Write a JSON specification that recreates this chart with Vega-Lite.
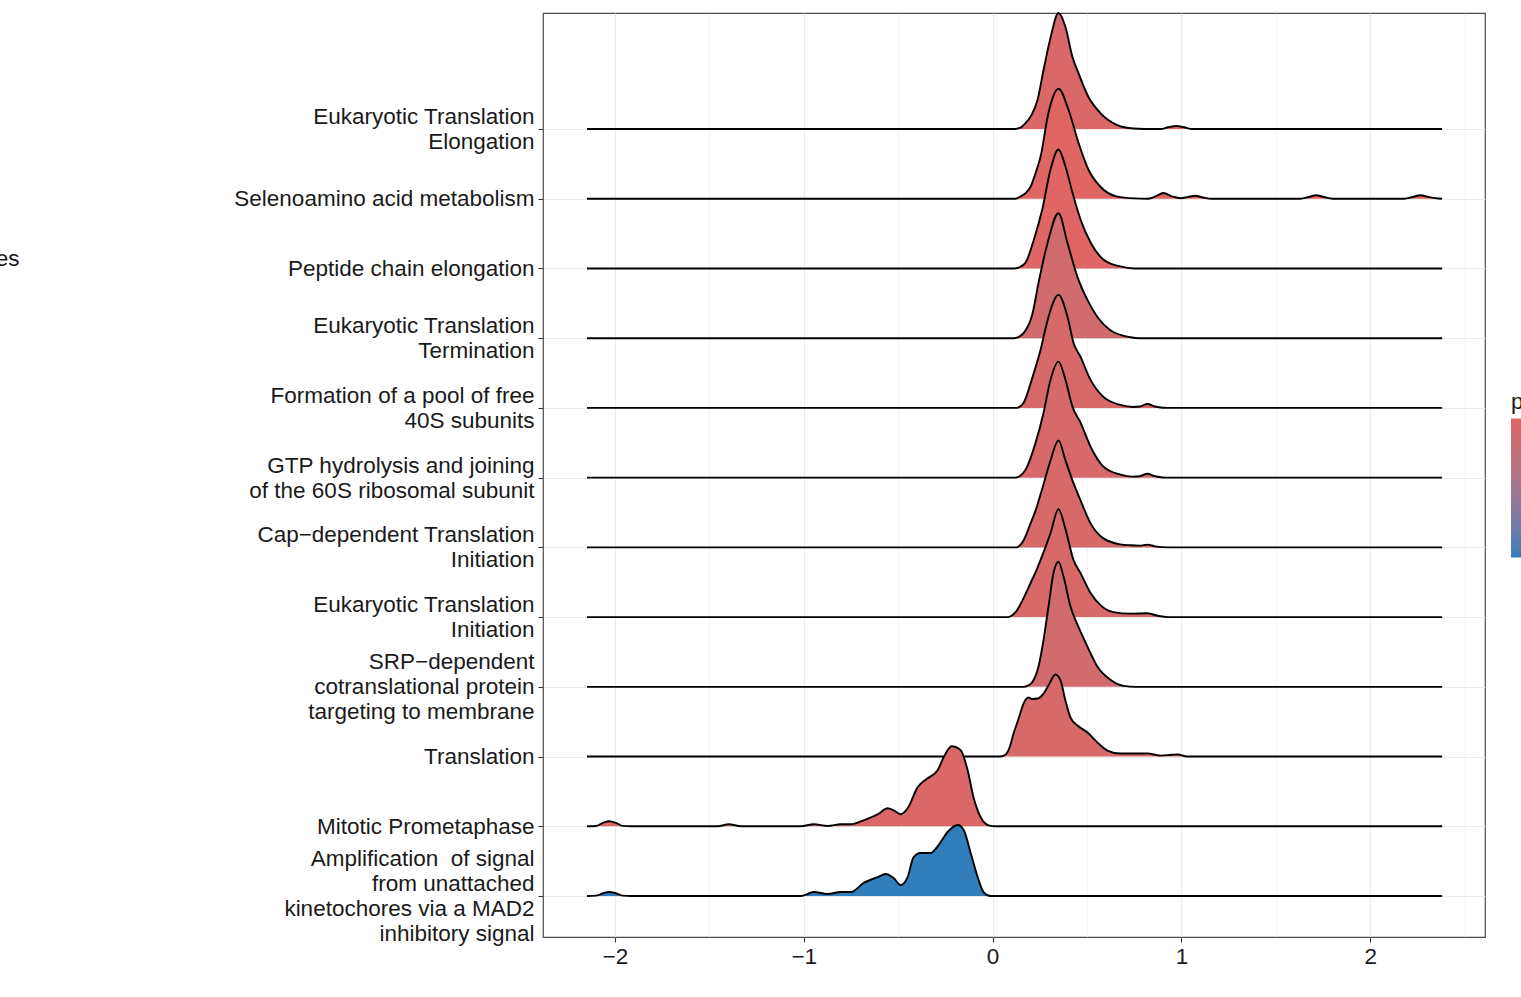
{
"$schema": "https://vega.github.io/schema/vega-lite/v6.json",
"width": 942, "height": 924,
"autosize": {"type": "none"},
"padding": {"left": 543, "top": 13, "right": 36, "bottom": 60},
"background": "white",
"config": {"font": "Liberation Sans", "view": {"stroke": "#4d4d4d", "strokeWidth": 1.2}},
"datasets": {
"terms": [{"r":1,"p":0.01},{"r":2,"p":0.0013},{"r":3,"p":0.0014},{"r":4,"p":0.0019},{"r":5,"p":0.0014},{"r":6,"p":0.0014},{"r":7,"p":0.0015},{"r":8,"p":0.0014},{"r":9,"p":0.0019},{"r":10,"p":0.0009},{"r":11,"p":0.0008},{"r":12,"p":0.0013}],
"ridges": [
{"r":12,"x":-2.148,"d":0},{"r":12,"x":0.111,"d":0},{"r":12,"x":0.14,"d":0.012},{"r":12,"x":0.175,"d":0.086},{"r":12,"x":0.206,"d":0.2},{"r":12,"x":0.238,"d":0.416},{"r":12,"x":0.27,"d":0.846},{"r":12,"x":0.307,"d":1.31},{"r":12,"x":0.349,"d":1.664},{"r":12,"x":0.386,"d":1.463},{"r":12,"x":0.423,"d":1.033},{"r":12,"x":0.455,"d":0.803},{"r":12,"x":0.508,"d":0.459},{"r":12,"x":0.571,"d":0.229},{"r":12,"x":0.661,"d":0.057},{"r":12,"x":0.746,"d":0.007},{"r":12,"x":0.8,"d":0},{"r":12,"x":0.889,"d":0},{"r":12,"x":0.93,"d":0.025},{"r":12,"x":0.974,"d":0.043},{"r":12,"x":1.015,"d":0.025},{"r":12,"x":1.058,"d":0},{"r":12,"x":2.381,"d":0},
{"r":11,"x":-2.148,"d":0},{"r":11,"x":0.122,"d":0},{"r":11,"x":0.146,"d":0.03},{"r":11,"x":0.175,"d":0.08},{"r":11,"x":0.201,"d":0.172},{"r":11,"x":0.228,"d":0.37},{"r":11,"x":0.254,"d":0.602},{"r":11,"x":0.296,"d":1.233},{"r":11,"x":0.349,"d":1.578},{"r":11,"x":0.402,"d":1.276},{"r":11,"x":0.455,"d":0.803},{"r":11,"x":0.508,"d":0.416},{"r":11,"x":0.571,"d":0.172},{"r":11,"x":0.661,"d":0.03},{"r":11,"x":0.75,"d":0.005},{"r":11,"x":0.82,"d":0},{"r":11,"x":0.86,"d":0.03},{"r":11,"x":0.905,"d":0.082},{"r":11,"x":0.95,"d":0.035},{"r":11,"x":0.995,"d":0.008},{"r":11,"x":1.035,"d":0.025},{"r":11,"x":1.074,"d":0.043},{"r":11,"x":1.115,"d":0.018},{"r":11,"x":1.16,"d":0},{"r":11,"x":1.63,"d":0},{"r":11,"x":1.675,"d":0.025},{"r":11,"x":1.714,"d":0.05},{"r":11,"x":1.755,"d":0.025},{"r":11,"x":1.8,"d":0},{"r":11,"x":2.18,"d":0},{"r":11,"x":2.225,"d":0.025},{"r":11,"x":2.265,"d":0.05},{"r":11,"x":2.31,"d":0.025},{"r":11,"x":2.36,"d":0.003},{"r":11,"x":2.381,"d":0},
{"r":10,"x":-2.148,"d":0},{"r":10,"x":0.116,"d":0},{"r":10,"x":0.14,"d":0.015},{"r":10,"x":0.175,"d":0.086},{"r":10,"x":0.219,"d":0.416},{"r":10,"x":0.263,"d":0.846},{"r":10,"x":0.307,"d":1.42},{"r":10,"x":0.349,"d":1.707},{"r":10,"x":0.386,"d":1.463},{"r":10,"x":0.423,"d":1.09},{"r":10,"x":0.466,"d":0.703},{"r":10,"x":0.519,"d":0.373},{"r":10,"x":0.587,"d":0.129},{"r":10,"x":0.677,"d":0.029},{"r":10,"x":0.75,"d":0},{"r":10,"x":2.381,"d":0},
{"r":9,"x":-2.148,"d":0},{"r":9,"x":0.111,"d":0},{"r":9,"x":0.14,"d":0.02},{"r":9,"x":0.164,"d":0.072},{"r":9,"x":0.212,"d":0.359},{"r":9,"x":0.243,"d":0.789},{"r":9,"x":0.291,"d":1.362},{"r":9,"x":0.349,"d":1.793},{"r":9,"x":0.397,"d":1.362},{"r":9,"x":0.45,"d":0.875},{"r":9,"x":0.503,"d":0.545},{"r":9,"x":0.556,"d":0.301},{"r":9,"x":0.624,"d":0.115},{"r":9,"x":0.73,"d":0.014},{"r":9,"x":0.78,"d":0},{"r":9,"x":2.381,"d":0},
{"r":8,"x":-2.148,"d":0},{"r":8,"x":0.13,"d":0},{"r":8,"x":0.145,"d":0.02},{"r":8,"x":0.164,"d":0.072},{"r":8,"x":0.212,"d":0.445},{"r":8,"x":0.254,"d":0.832},{"r":8,"x":0.296,"d":1.305},{"r":8,"x":0.349,"d":1.621},{"r":8,"x":0.397,"d":1.305},{"r":8,"x":0.429,"d":0.932},{"r":8,"x":0.466,"d":0.731},{"r":8,"x":0.519,"d":0.402},{"r":8,"x":0.587,"d":0.158},{"r":8,"x":0.677,"d":0.043},{"r":8,"x":0.746,"d":0.014},{"r":8,"x":0.78,"d":0.02},{"r":8,"x":0.82,"d":0.057},{"r":8,"x":0.86,"d":0.02},{"r":8,"x":0.9,"d":0.003},{"r":8,"x":0.95,"d":0},{"r":8,"x":2.381,"d":0},
{"r":7,"x":-2.148,"d":0},{"r":7,"x":0.12,"d":0},{"r":7,"x":0.145,"d":0.025},{"r":7,"x":0.175,"d":0.115},{"r":7,"x":0.228,"d":0.502},{"r":7,"x":0.27,"d":0.932},{"r":7,"x":0.307,"d":1.405},{"r":7,"x":0.349,"d":1.664},{"r":7,"x":0.386,"d":1.405},{"r":7,"x":0.423,"d":1.018},{"r":7,"x":0.466,"d":0.789},{"r":7,"x":0.519,"d":0.445},{"r":7,"x":0.587,"d":0.158},{"r":7,"x":0.677,"d":0.043},{"r":7,"x":0.74,"d":0.014},{"r":7,"x":0.78,"d":0.02},{"r":7,"x":0.82,"d":0.057},{"r":7,"x":0.86,"d":0.02},{"r":7,"x":0.9,"d":0.003},{"r":7,"x":0.95,"d":0},{"r":7,"x":2.381,"d":0},
{"r":6,"x":-2.148,"d":0},{"r":6,"x":0.13,"d":0},{"r":6,"x":0.145,"d":0.03},{"r":6,"x":0.164,"d":0.1},{"r":6,"x":0.201,"d":0.344},{"r":6,"x":0.228,"d":0.531},{"r":6,"x":0.265,"d":0.86},{"r":6,"x":0.307,"d":1.248},{"r":6,"x":0.349,"d":1.535},{"r":6,"x":0.386,"d":1.248},{"r":6,"x":0.423,"d":0.961},{"r":6,"x":0.466,"d":0.674},{"r":6,"x":0.519,"d":0.344},{"r":6,"x":0.587,"d":0.129},{"r":6,"x":0.677,"d":0.043},{"r":6,"x":0.73,"d":0.03},{"r":6,"x":0.78,"d":0.025},{"r":6,"x":0.82,"d":0.04},{"r":6,"x":0.86,"d":0.015},{"r":6,"x":0.9,"d":0.003},{"r":6,"x":0.95,"d":0},{"r":6,"x":2.381,"d":0},
{"r":5,"x":-2.148,"d":0},{"r":5,"x":0.08,"d":0},{"r":5,"x":0.1,"d":0.02},{"r":5,"x":0.122,"d":0.07},{"r":5,"x":0.159,"d":0.244},{"r":5,"x":0.201,"d":0.488},{"r":5,"x":0.228,"d":0.645},{"r":5,"x":0.254,"d":0.817},{"r":5,"x":0.307,"d":1.205},{"r":5,"x":0.349,"d":1.549},{"r":5,"x":0.386,"d":1.262},{"r":5,"x":0.429,"d":0.817},{"r":5,"x":0.466,"d":0.631},{"r":5,"x":0.519,"d":0.344},{"r":5,"x":0.571,"d":0.172},{"r":5,"x":0.64,"d":0.072},{"r":5,"x":0.73,"d":0.05},{"r":5,"x":0.82,"d":0.055},{"r":5,"x":0.88,"d":0.015},{"r":5,"x":0.93,"d":0},{"r":5,"x":2.381,"d":0},
{"r":4,"x":-2.148,"d":0},{"r":4,"x":0.164,"d":0},{"r":4,"x":0.19,"d":0.02},{"r":4,"x":0.212,"d":0.072},{"r":4,"x":0.243,"d":0.287},{"r":4,"x":0.27,"d":0.674},{"r":4,"x":0.296,"d":1.147},{"r":4,"x":0.323,"d":1.635},{"r":4,"x":0.349,"d":1.793},{"r":4,"x":0.376,"d":1.578},{"r":4,"x":0.413,"d":1.147},{"r":4,"x":0.455,"d":0.86},{"r":4,"x":0.503,"d":0.574},{"r":4,"x":0.556,"d":0.287},{"r":4,"x":0.624,"d":0.1},{"r":4,"x":0.693,"d":0.014},{"r":4,"x":0.76,"d":0},{"r":4,"x":2.381,"d":0},
{"r":3,"x":-2.148,"d":0},{"r":3,"x":0.042,"d":0},{"r":3,"x":0.069,"d":0.029},{"r":3,"x":0.09,"d":0.13},{"r":3,"x":0.111,"d":0.33},{"r":3,"x":0.138,"d":0.545},{"r":3,"x":0.164,"d":0.76},{"r":3,"x":0.19,"d":0.846},{"r":3,"x":0.212,"d":0.825},{"r":3,"x":0.238,"d":0.832},{"r":3,"x":0.27,"d":0.903},{"r":3,"x":0.296,"d":1.018},{"r":3,"x":0.333,"d":1.176},{"r":3,"x":0.36,"d":1.09},{"r":3,"x":0.386,"d":0.803},{"r":3,"x":0.413,"d":0.559},{"r":3,"x":0.45,"d":0.445},{"r":3,"x":0.503,"d":0.344},{"r":3,"x":0.556,"d":0.2},{"r":3,"x":0.608,"d":0.086},{"r":3,"x":0.677,"d":0.043},{"r":3,"x":0.746,"d":0.043},{"r":3,"x":0.82,"d":0.045},{"r":3,"x":0.888,"d":0.014},{"r":3,"x":0.95,"d":0.025},{"r":3,"x":0.98,"d":0.03},{"r":3,"x":1.03,"d":0},{"r":3,"x":2.381,"d":0},
{"r":2,"x":-2.148,"d":0},{"r":2,"x":-2.101,"d":0.005},{"r":2,"x":-2.063,"d":0.05},{"r":2,"x":-2.032,"d":0.072},{"r":2,"x":-1.995,"d":0.05},{"r":2,"x":-1.958,"d":0.005},{"r":2,"x":-1.915,"d":0},{"r":2,"x":-1.455,"d":0},{"r":2,"x":-1.397,"d":0.029},{"r":2,"x":-1.333,"d":0},{"r":2,"x":-1.016,"d":0},{"r":2,"x":-0.947,"d":0.029},{"r":2,"x":-0.873,"d":0.005},{"r":2,"x":-0.804,"d":0.029},{"r":2,"x":-0.751,"d":0.029},{"r":2,"x":-0.683,"d":0.086},{"r":2,"x":-0.608,"d":0.172},{"r":2,"x":-0.556,"d":0.258},{"r":2,"x":-0.524,"d":0.229},{"r":2,"x":-0.487,"d":0.172},{"r":2,"x":-0.45,"d":0.258},{"r":2,"x":-0.397,"d":0.559},{"r":2,"x":-0.344,"d":0.688},{"r":2,"x":-0.291,"d":0.803},{"r":2,"x":-0.259,"d":0.99},{"r":2,"x":-0.217,"d":1.147},{"r":2,"x":-0.169,"d":1.09},{"r":2,"x":-0.132,"d":0.803},{"r":2,"x":-0.101,"d":0.416},{"r":2,"x":-0.063,"d":0.129},{"r":2,"x":-0.021,"d":0.014},{"r":2,"x":0.016,"d":0},{"r":2,"x":2.381,"d":0},
{"r":1,"x":-2.148,"d":0},{"r":1,"x":-2.101,"d":0.005},{"r":1,"x":-2.063,"d":0.04},{"r":1,"x":-2.032,"d":0.057},{"r":1,"x":-1.995,"d":0.04},{"r":1,"x":-1.958,"d":0.005},{"r":1,"x":-1.915,"d":0},{"r":1,"x":-1.016,"d":0},{"r":1,"x":-0.947,"d":0.057},{"r":1,"x":-0.873,"d":0.029},{"r":1,"x":-0.804,"d":0.057},{"r":1,"x":-0.751,"d":0.057},{"r":1,"x":-0.683,"d":0.186},{"r":1,"x":-0.608,"d":0.272},{"r":1,"x":-0.566,"d":0.316},{"r":1,"x":-0.524,"d":0.258},{"r":1,"x":-0.487,"d":0.158},{"r":1,"x":-0.45,"d":0.272},{"r":1,"x":-0.418,"d":0.559},{"r":1,"x":-0.381,"d":0.617},{"r":1,"x":-0.328,"d":0.617},{"r":1,"x":-0.286,"d":0.731},{"r":1,"x":-0.238,"d":0.918},{"r":1,"x":-0.185,"d":1.018},{"r":1,"x":-0.153,"d":0.947},{"r":1,"x":-0.116,"d":0.617},{"r":1,"x":-0.079,"d":0.272},{"r":1,"x":-0.048,"d":0.057},{"r":1,"x":-0.011,"d":0},{"r":1,"x":2.381,"d":0}
]},
"data": {"name": "ridges"},
"transform": [{"lookup": "r", "from": {"data": {"name": "terms"}, "key": "r", "fields": ["p"]}}],
"encoding": {"x": {"field": "x", "type": "quantitative", "scale": {"domain": [-2.381, 2.608], "nice": false, "zero": false},
  "axis": {"values": [-2, -1.5, -1, -0.5, 0, 0.5, 1, 1.5, 2, 2.5], "format": "~g", "labelExpr": "datum.value % 1 == 0 ? datum.label : ''", "title": null, "domain": false, "grid": true, "gridColor": "#ebebeb",
    "gridWidth": {"condition": {"test": "datum.value % 1 == 0", "value": 1.1}, "value": 0.55},
    "tickOpacity": {"condition": {"test": "datum.value % 1 == 0", "value": 1}, "value": 0},
    "tickColor": "#333333", "tickSize": 5, "tickWidth": 1.1, "labelFontSize": 22.5, "labelColor": "#1a1a1a", "labelPadding": 3, "labelFont": "Liberation Sans"}}},
"layer": [
{"mark": {"type": "point", "opacity": 0}, "encoding": {"y": {"field": "r", "type": "quantitative", "scale": {"domain": [0.412, 13.664], "nice": false, "zero": false},
  "axis": {"orient": "left", "values": [1,2,3,4,5,6,7,8,9,10,11,12], "labelExpr": "[['Amplification\u00a0 of signal','from unattached\u2005','kinetochores via a MAD2\u2005','inhibitory signal'],'Mitotic Prometaphase','Translation',['SRP\u2212dependent','cotranslational protein','targeting to membrane'],['Eukaryotic Translation','Initiation'],['Cap\u2212dependent Translation','Initiation'],['GTP hydrolysis and joining','of the 60S ribosomal subunit'],['Formation of a pool of free','40S subunits'],['Eukaryotic Translation','Termination'],'Peptide chain elongation','Selenoamino acid metabolism',['Eukaryotic Translation','Elongation']][datum.value - 1]",
   "labelOffset": {"condition": [{"test": "datum.value == 1", "value": -37.5}, {"test": "datum.value == 4", "value": -25}, {"test": "indexof([5,6,7,8,9,12], datum.value) >= 0", "value": -12.5}], "value": 0},
   "title": "es", "titleAngle": 0, "titleX": -524, "titleY": 245, "titleAlign": "right", "titleBaseline": "middle", "titleFontSize": 22.5, "titleFontWeight": "normal", "titleColor": "#1a1a1a", "titleFont": "Liberation Sans",
   "grid": true, "gridColor": "#ebebeb", "gridWidth": 1.1, "domain": false, "tickColor": "#333333", "tickSize": 5, "tickWidth": 1.1,
   "labelFontSize": 22.5, "labelFont": "Liberation Sans", "labelColor": "#1a1a1a", "labelLineHeight": 25, "labelPadding": 4, "labelLimit": 1000, "labelOverlap": false, "labelBound": false}}}},
{"transform": [{"filter": "datum.r == 12"}], "mark": {"type": "area", "interpolate": "monotone", "opacity": 1}, "encoding": {"y": {"field": "d", "type": "quantitative", "scale": {"domain": [-11.588, 1.664], "nice": false, "zero": false}, "axis": null}, "y2": {"datum": 0}, "fill": {"field": "p", "type": "quantitative", "scale": {"domain": [0.01, 0.0008], "range": ["#327eba", "#e06663"], "interpolate": "lab", "nice": false, "zero": false}, "legend": {"title": "p.adjust", "orient": "none", "legendX": 968, "legendY": 378, "direction": "vertical", "gradientLength": 139, "gradientThickness": 23, "titleFontSize": 22.5, "titleFontWeight": "normal", "titleColor": "#1a1a1a", "titleFont": "Liberation Sans", "titlePadding": 5, "labelFontSize": 18, "tickCount": 4, "padding": 0}}}},
{"transform": [{"filter": "datum.r == 12"}], "mark": {"type": "line", "interpolate": "monotone", "color": "black", "strokeWidth": 1.9}, "encoding": {"y": {"field": "d", "type": "quantitative", "scale": {"domain": [-11.588, 1.664], "nice": false, "zero": false}, "axis": null}}},
{"transform": [{"filter": "datum.r == 11"}], "mark": {"type": "area", "interpolate": "monotone", "opacity": 1}, "encoding": {"y": {"field": "d", "type": "quantitative", "scale": {"domain": [-10.588, 2.664], "nice": false, "zero": false}, "axis": null}, "y2": {"datum": 0}, "fill": {"field": "p", "type": "quantitative", "scale": {"domain": [0.01, 0.0008], "range": ["#327eba", "#e06663"], "interpolate": "lab", "nice": false, "zero": false}}}},
{"transform": [{"filter": "datum.r == 11"}], "mark": {"type": "line", "interpolate": "monotone", "color": "black", "strokeWidth": 1.9}, "encoding": {"y": {"field": "d", "type": "quantitative", "scale": {"domain": [-10.588, 2.664], "nice": false, "zero": false}, "axis": null}}},
{"transform": [{"filter": "datum.r == 10"}], "mark": {"type": "area", "interpolate": "monotone", "opacity": 1}, "encoding": {"y": {"field": "d", "type": "quantitative", "scale": {"domain": [-9.588, 3.664], "nice": false, "zero": false}, "axis": null}, "y2": {"datum": 0}, "fill": {"field": "p", "type": "quantitative", "scale": {"domain": [0.01, 0.0008], "range": ["#327eba", "#e06663"], "interpolate": "lab", "nice": false, "zero": false}}}},
{"transform": [{"filter": "datum.r == 10"}], "mark": {"type": "line", "interpolate": "monotone", "color": "black", "strokeWidth": 1.9}, "encoding": {"y": {"field": "d", "type": "quantitative", "scale": {"domain": [-9.588, 3.664], "nice": false, "zero": false}, "axis": null}}},
{"transform": [{"filter": "datum.r == 9"}], "mark": {"type": "area", "interpolate": "monotone", "opacity": 1}, "encoding": {"y": {"field": "d", "type": "quantitative", "scale": {"domain": [-8.588, 4.664], "nice": false, "zero": false}, "axis": null}, "y2": {"datum": 0}, "fill": {"field": "p", "type": "quantitative", "scale": {"domain": [0.01, 0.0008], "range": ["#327eba", "#e06663"], "interpolate": "lab", "nice": false, "zero": false}}}},
{"transform": [{"filter": "datum.r == 9"}], "mark": {"type": "line", "interpolate": "monotone", "color": "black", "strokeWidth": 1.9}, "encoding": {"y": {"field": "d", "type": "quantitative", "scale": {"domain": [-8.588, 4.664], "nice": false, "zero": false}, "axis": null}}},
{"transform": [{"filter": "datum.r == 8"}], "mark": {"type": "area", "interpolate": "monotone", "opacity": 1}, "encoding": {"y": {"field": "d", "type": "quantitative", "scale": {"domain": [-7.588, 5.664], "nice": false, "zero": false}, "axis": null}, "y2": {"datum": 0}, "fill": {"field": "p", "type": "quantitative", "scale": {"domain": [0.01, 0.0008], "range": ["#327eba", "#e06663"], "interpolate": "lab", "nice": false, "zero": false}}}},
{"transform": [{"filter": "datum.r == 8"}], "mark": {"type": "line", "interpolate": "monotone", "color": "black", "strokeWidth": 1.9}, "encoding": {"y": {"field": "d", "type": "quantitative", "scale": {"domain": [-7.588, 5.664], "nice": false, "zero": false}, "axis": null}}},
{"transform": [{"filter": "datum.r == 7"}], "mark": {"type": "area", "interpolate": "monotone", "opacity": 1}, "encoding": {"y": {"field": "d", "type": "quantitative", "scale": {"domain": [-6.588, 6.664], "nice": false, "zero": false}, "axis": null}, "y2": {"datum": 0}, "fill": {"field": "p", "type": "quantitative", "scale": {"domain": [0.01, 0.0008], "range": ["#327eba", "#e06663"], "interpolate": "lab", "nice": false, "zero": false}}}},
{"transform": [{"filter": "datum.r == 7"}], "mark": {"type": "line", "interpolate": "monotone", "color": "black", "strokeWidth": 1.9}, "encoding": {"y": {"field": "d", "type": "quantitative", "scale": {"domain": [-6.588, 6.664], "nice": false, "zero": false}, "axis": null}}},
{"transform": [{"filter": "datum.r == 6"}], "mark": {"type": "area", "interpolate": "monotone", "opacity": 1}, "encoding": {"y": {"field": "d", "type": "quantitative", "scale": {"domain": [-5.588, 7.664], "nice": false, "zero": false}, "axis": null}, "y2": {"datum": 0}, "fill": {"field": "p", "type": "quantitative", "scale": {"domain": [0.01, 0.0008], "range": ["#327eba", "#e06663"], "interpolate": "lab", "nice": false, "zero": false}}}},
{"transform": [{"filter": "datum.r == 6"}], "mark": {"type": "line", "interpolate": "monotone", "color": "black", "strokeWidth": 1.9}, "encoding": {"y": {"field": "d", "type": "quantitative", "scale": {"domain": [-5.588, 7.664], "nice": false, "zero": false}, "axis": null}}},
{"transform": [{"filter": "datum.r == 5"}], "mark": {"type": "area", "interpolate": "monotone", "opacity": 1}, "encoding": {"y": {"field": "d", "type": "quantitative", "scale": {"domain": [-4.588, 8.664], "nice": false, "zero": false}, "axis": null}, "y2": {"datum": 0}, "fill": {"field": "p", "type": "quantitative", "scale": {"domain": [0.01, 0.0008], "range": ["#327eba", "#e06663"], "interpolate": "lab", "nice": false, "zero": false}}}},
{"transform": [{"filter": "datum.r == 5"}], "mark": {"type": "line", "interpolate": "monotone", "color": "black", "strokeWidth": 1.9}, "encoding": {"y": {"field": "d", "type": "quantitative", "scale": {"domain": [-4.588, 8.664], "nice": false, "zero": false}, "axis": null}}},
{"transform": [{"filter": "datum.r == 4"}], "mark": {"type": "area", "interpolate": "monotone", "opacity": 1}, "encoding": {"y": {"field": "d", "type": "quantitative", "scale": {"domain": [-3.588, 9.664], "nice": false, "zero": false}, "axis": null}, "y2": {"datum": 0}, "fill": {"field": "p", "type": "quantitative", "scale": {"domain": [0.01, 0.0008], "range": ["#327eba", "#e06663"], "interpolate": "lab", "nice": false, "zero": false}}}},
{"transform": [{"filter": "datum.r == 4"}], "mark": {"type": "line", "interpolate": "monotone", "color": "black", "strokeWidth": 1.9}, "encoding": {"y": {"field": "d", "type": "quantitative", "scale": {"domain": [-3.588, 9.664], "nice": false, "zero": false}, "axis": null}}},
{"transform": [{"filter": "datum.r == 3"}], "mark": {"type": "area", "interpolate": "monotone", "opacity": 1}, "encoding": {"y": {"field": "d", "type": "quantitative", "scale": {"domain": [-2.588, 10.664], "nice": false, "zero": false}, "axis": null}, "y2": {"datum": 0}, "fill": {"field": "p", "type": "quantitative", "scale": {"domain": [0.01, 0.0008], "range": ["#327eba", "#e06663"], "interpolate": "lab", "nice": false, "zero": false}}}},
{"transform": [{"filter": "datum.r == 3"}], "mark": {"type": "line", "interpolate": "monotone", "color": "black", "strokeWidth": 1.9}, "encoding": {"y": {"field": "d", "type": "quantitative", "scale": {"domain": [-2.588, 10.664], "nice": false, "zero": false}, "axis": null}}},
{"transform": [{"filter": "datum.r == 2"}], "mark": {"type": "area", "interpolate": "monotone", "opacity": 1}, "encoding": {"y": {"field": "d", "type": "quantitative", "scale": {"domain": [-1.588, 11.664], "nice": false, "zero": false}, "axis": null}, "y2": {"datum": 0}, "fill": {"field": "p", "type": "quantitative", "scale": {"domain": [0.01, 0.0008], "range": ["#327eba", "#e06663"], "interpolate": "lab", "nice": false, "zero": false}}}},
{"transform": [{"filter": "datum.r == 2"}], "mark": {"type": "line", "interpolate": "monotone", "color": "black", "strokeWidth": 1.9}, "encoding": {"y": {"field": "d", "type": "quantitative", "scale": {"domain": [-1.588, 11.664], "nice": false, "zero": false}, "axis": null}}},
{"transform": [{"filter": "datum.r == 1"}], "mark": {"type": "area", "interpolate": "monotone", "opacity": 1}, "encoding": {"y": {"field": "d", "type": "quantitative", "scale": {"domain": [-0.588, 12.664], "nice": false, "zero": false}, "axis": null}, "y2": {"datum": 0}, "fill": {"field": "p", "type": "quantitative", "scale": {"domain": [0.01, 0.0008], "range": ["#327eba", "#e06663"], "interpolate": "lab", "nice": false, "zero": false}}}},
{"transform": [{"filter": "datum.r == 1"}], "mark": {"type": "line", "interpolate": "monotone", "color": "black", "strokeWidth": 1.9}, "encoding": {"y": {"field": "d", "type": "quantitative", "scale": {"domain": [-0.588, 12.664], "nice": false, "zero": false}, "axis": null}}}
],
"resolve": {"scale": {"y": "independent"}, "axis": {"y": "independent"}}
}
